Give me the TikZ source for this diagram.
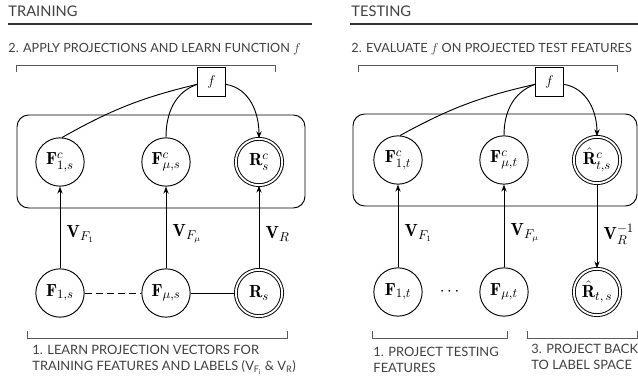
\documentclass[tikz,border=0pt]{standalone}
\usepackage{amsmath}
\usepackage{fontspec}
\newfontfamily\capfont{Lato}
\usetikzlibrary{arrows.meta}

\tikzset{
  feat/.style={circle, draw, minimum size=1.45cm, inner sep=0pt, font=\fontsize{15}{17}\selectfont},
  resp/.style={feat, double, double distance=1.6pt, minimum size=1.39cm},
  fnbox/.style={draw, minimum width=0.84cm, minimum height=0.86cm, inner sep=0pt, font=\fontsize{13}{15}\selectfont},
  heading/.style={anchor=base west, inner sep=0pt, text=black!75, font=\capfont\fontsize{12.5}{15}\selectfont},
  steptitle/.style={anchor=base west, inner sep=0pt, text=black!75, font=\capfont\fontsize{10.8}{13}\selectfont},
  note/.style={anchor=north west, inner sep=0pt, align=left, text=black!75, font=\capfont\fontsize{11}{13.6}\selectfont},
  brace/.style={black!65, line width=0.6pt},
  vlabel/.style={right, xshift=2pt, font=\fontsize{15}{17}\selectfont},
}

\begin{document}
\begin{tikzpicture}[x=0.03cm, y=-0.03cm, line width=0.8pt, >={Stealth[length=6pt,width=4.5pt]}]
  \useasboundingbox (0,0) rectangle (638,376);

  % training side
  \node[heading] (trainhead) at (8,17) {TRAINING};
  \draw[black!80, line width=1.6pt] (8,24) -- (312,24);
  \node[steptitle] (trainstep) at (8,53) {2. APPLY PROJECTIONS AND LEARN FUNCTION $f$};
  \draw[brace] (16.5,72) -- (16.5,65.5) -- (275.5,65.5) -- (275.5,72);

  \draw[rounded corners=10pt] (17,115) rectangle (305,208);
  \node[fnbox] (fl) at (211.5,82) {$f$};
  \node[feat] (f1sc) at (60,162) {$\mathbf{F}^c_{1,s}$};
  \node[feat] (fmsc) at (166,162) {$\mathbf{F}^c_{\mu,s}$};
  \node[resp] (rsc) at (259,162) {$\mathbf{R}^c_{s}$};

  \node[feat] (f1s) at (60,293) {$\mathbf{F}_{1,s}$};
  \node[feat] (fms) at (166,293) {$\mathbf{F}_{\mu,s}$};
  \node[resp] (rs) at (259,293) {$\mathbf{R}_{s}$};

  \draw[dash pattern=on 6pt off 3.5pt] (f1s) -- (fms);
  \draw (fms) -- (rs);

  \draw[->] (f1s) -- (f1sc) node[vlabel, pos=0.42] {$\mathbf{V}_{F_1}$};
  \draw[->] (fms) -- (fmsc) node[vlabel, pos=0.42] {$\mathbf{V}_{F_\mu}$};
  \draw[->] (rs) -- (rsc) node[vlabel, pos=0.42] {$\mathbf{V}_{R}$};

  \draw (f1sc.85) to[bend left=8] ([yshift=-2pt]fl.west);
  \draw (fmsc.north) to[out=90, in=200] ([yshift=-2pt]fl.west);
  \draw[->] ([yshift=-2pt]fl.east) to[out=-10, in=90] (rsc.north);

  \draw[brace] (27,331) -- (27,338.5) -- (287,338.5) -- (287,331);
  \node[note] (trainnote) at (32,345) {1. LEARN PROJECTION VECTORS FOR\\TRAINING FEATURES AND LABELS (V\textsubscript{F\textsubscript{i}} \& V\textsubscript{R})};

  % testing side
  \node[heading] (testhead) at (351,17) {TESTING};
  \draw[black!80, line width=1.6pt] (350,24) -- (638,24);
  \node[steptitle] (teststep) at (351,53) {2. EVALUATE $f$ ON PROJECTED TEST FEATURES};
  \draw[brace] (358.5,72) -- (358.5,65.5) -- (617,65.5) -- (617,72);

  \draw[rounded corners=10pt] (353,114) rectangle (637,206);
  \node[fnbox] (fr) at (549.5,82) {$f$};
  \node[feat] (f1tc) at (398,160) {$\mathbf{F}^c_{1,t}$};
  \node[feat] (fmtc) at (504,160) {$\mathbf{F}^c_{\mu,t}$};
  \node[resp] (rtc) at (597,160) {$\hat{\mathbf{R}}^c_{t,s}$};

  \node[feat] (f1t) at (398,292) {$\mathbf{F}_{1,t}$};
  \node[feat] (fmt) at (504,292) {$\mathbf{F}_{\mu,t}$};
  \node[resp] (rt) at (597,292) {$\hat{\mathbf{R}}_{t,\,s}$};
  \node[font=\fontsize{15}{17}\selectfont] (dots) at (451,292) {$\cdots$};

  \draw[->] (f1t) -- (f1tc) node[vlabel, pos=0.42] {$\mathbf{V}_{F_1}$};
  \draw[->] (fmt) -- (fmtc) node[vlabel, pos=0.42] {$\mathbf{V}_{F_\mu}$};
  \draw[->] (rtc) -- (rt) node[vlabel, pos=0.6] {$\mathbf{V}_{R}^{-1}$};

  \draw (f1tc.85) to[bend left=8] ([yshift=-2pt]fr.west);
  \draw (fmtc.north) to[out=90, in=200] ([yshift=-2pt]fr.west);
  \draw[->] ([yshift=-2pt]fr.east) to[out=-10, in=90] (rtc.north);

  \draw[brace] (372,331) -- (372,338.5) -- (507,338.5) -- (507,331);
  \draw[brace] (527,331) -- (527,338.5) -- (637,338.5) -- (637,331);
  \node[note] (testnote) at (373,347) {1. PROJECT TESTING\\FEATURES};
  \node[note] (backnote) at (531,344) {3. PROJECT BACK\\TO LABEL SPACE};
\end{tikzpicture}
\end{document}
